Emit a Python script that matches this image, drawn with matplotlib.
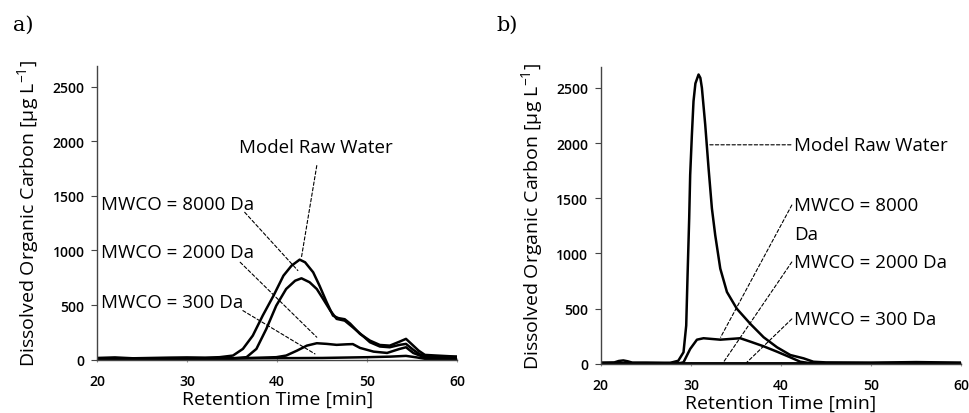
import matplotlib
matplotlib.use("Agg")
import matplotlib.pyplot as plt

plt.rcParams['mathtext.fontset'] = 'custom'
plt.rcParams['mathtext.rm'] = 'Open Sans'
plt.rcParams['mathtext.default'] = 'rm'

# ---- a) ----
a_raw_t = [20, 22, 24, 26, 28, 30, 32, 33.6, 35.1, 36.2, 37.3, 38.4, 39.6, 40.7, 41.6,
           42.5, 43.1, 44.0, 44.7, 45.5, 46.2, 46.8, 47.5, 48.1, 49.2, 50.3, 51.4,
           52.5, 53.6, 54.3, 54.9, 55.7, 56.4, 57.7, 60]
a_raw = [15, 20, 12, 15, 18, 20, 18, 22, 37, 98, 220, 403, 586, 769, 861,
         916, 892, 800, 678, 525, 403, 380, 370, 330, 235, 174, 134,
         128, 165, 190, 144, 82, 43, 37, 27]

a_8000_t = [20, 25, 30, 35, 36.6, 37.7, 38.8, 39.9, 41.0, 42.0, 42.7, 43.6, 44.4,
            45.1, 45.9, 46.6, 47.5, 48.4, 49.6, 50.3, 51.4, 52.5, 53.6, 54.3,
            55.1, 55.8, 56.5, 58, 60]
a_8000 = [12, 10, 12, 12, 22, 98, 281, 494, 647, 723, 745, 709, 647,
          556, 449, 373, 357, 296, 211, 159, 120, 113, 135, 144,
          90, 50, 30, 25, 25]

a_2000_t = [20, 25, 30, 35, 39.9, 41.0, 42.2, 43.3, 44.4, 45.5, 46.6, 47.7, 48.4,
            49.2, 50.7, 52.2, 53.6, 54.3, 55.1, 56.3, 58, 60]
a_2000 = [10, 8, 10, 10, 22, 37, 82, 128, 150, 144, 135, 140, 142,
          107, 73, 61, 98, 113, 61, 22, 12, 12]

a_300_t = [20, 30, 40, 45, 50, 52.5, 54.3, 55.5, 56.5, 60]
a_300 = [8, 8, 13, 15, 22, 27, 34, 20, 6, 5]

# ---- b) ----
b_raw_t = [20, 21.5, 22.0, 22.5, 23.0, 23.5, 25, 27, 27.7, 28.6, 29.18, 29.48, 29.63,
           29.81, 29.92, 30.11, 30.29, 30.5, 30.85, 31.05, 31.22, 31.59, 31.96, 32.33,
           32.7, 33.26, 34.0, 35.1, 36.6, 38.07, 39.56, 41.03, 42.5, 43.6, 45, 50, 55, 60]
b_raw = [10, 12, 25, 30, 22, 10, 10, 8, 8, 27, 104, 346, 801,
         1317, 1711, 2075, 2379, 2540, 2621, 2590, 2500, 2166, 1772, 1408,
         1165, 862, 650, 498, 361, 240, 149, 79, 49, 18, 12, 10, 15, 10]

b_8000_t = [20, 25, 28.8, 29.18, 29.92, 30.67, 31.4, 33.26, 35.48, 36.6, 38.07,
            39.56, 41.03, 42.14, 43, 45, 60]
b_8000 = [6, 6, 6, 13, 134, 218, 231, 218, 231, 200, 158,
          109, 58, 18, 8, 6, 6]

b_2000_t = [20, 30, 40, 50, 60]
b_2000 = [5, 5, 5, 5, 5]

b_300_t = [20, 30, 40, 50, 60]
b_300 = [3, 3, 3, 3, 3]

x_ticks = [20, 30, 40, 50, 60]
y_ticks = [0, 500, 1000, 1500, 2000, 2500]

fig = plt.figure(figsize=(9.69, 4.14), dpi=100)
axa = fig.add_axes([0.100, 0.129, 0.372, 0.709])
axb = fig.add_axes([0.620, 0.119, 0.372, 0.717])

font = ['Open Sans', 'DejaVu Sans']
lw = 1.8
for ax, series in [(axa, [(a_raw_t, a_raw), (a_8000_t, a_8000), (a_2000_t, a_2000), (a_300_t, a_300)]),
                   (axb, [(b_raw_t, b_raw), (b_8000_t, b_8000), (b_2000_t, b_2000), (b_300_t, b_300)])]:
    for t, v in series:
        ax.plot(t, v, color='black', lw=lw, solid_joinstyle='round', solid_capstyle='round')
    ax.set_xlim(20, 60)
    ax.set_ylim(0, 2690)
    ax.set_xticks(x_ticks)
    ax.set_yticks(y_ticks)
    for s in ['top', 'right']:
        ax.spines[s].set_visible(False)
    for s in ['left', 'bottom']:
        ax.spines[s].set_color('#444444')
        ax.spines[s].set_linewidth(1.0)
    ax.tick_params(axis='y', length=4, color='#444444', labelsize=10, pad=5)
    ax.tick_params(axis='x', length=3, direction='inout', color='#999999', labelsize=10, pad=9)
    for lab in ax.get_xticklabels() + ax.get_yticklabels():
        lab.set_family(font)
        lab.set_fontweight('semibold')
    ax.set_xlabel('Retention Time [min]', family=font, fontsize=14, labelpad=1)
    ax.set_ylabel('Dissolved Organic Carbon [µg L$^{-1}$]', family=font, fontsize=14, labelpad=8)

lead = dict(arrowstyle='-', linestyle=(0, (3, 2)), lw=0.8, color='black',
            shrinkA=0, shrinkB=0)
tfs = 13.5

# a) annotations
axa.text(44.3, 1946, 'Model Raw Water', family=font, fontsize=tfs, ha='center', va='center')
axa.annotate('', xy=(42.7, 938), xytext=(44.4, 1778), arrowprops=lead)
axa.text(20.4, 1427, 'MWCO = 8000 Da', family=font, fontsize=tfs, ha='left', va='center')
axa.annotate('', xy=(42.3, 816), xytext=(36.4, 1350), arrowprops=lead)
axa.text(20.4, 984, 'MWCO = 2000 Da', family=font, fontsize=tfs, ha='left', va='center')
axa.annotate('', xy=(44.4, 205), xytext=(35.9, 892), arrowprops=lead)
axa.text(20.4, 525, 'MWCO = 300 Da', family=font, fontsize=tfs, ha='left', va='center')
axa.annotate('', xy=(44.2, 52), xytext=(36.2, 449), arrowprops=lead)

# b) annotations
axb.text(41.4, 1984, 'Model Raw Water', family=font, fontsize=tfs, ha='left', va='center')
axb.annotate('', xy=(32.1, 1984), xytext=(41.1, 1984), arrowprops=lead)
axb.text(41.4, 1438, 'MWCO = 8000', family=font, fontsize=tfs, ha='left', va='center')
axb.text(41.4, 1180, 'Da', family=font, fontsize=tfs, ha='left', va='center')
axb.annotate('', xy=(33.3, 240), xytext=(41.2, 1438), arrowprops=lead)
axb.text(41.4, 922, 'MWCO = 2000 Da', family=font, fontsize=tfs, ha='left', va='center')
axb.annotate('', xy=(33.6, 12), xytext=(41.2, 922), arrowprops=lead)
axb.text(41.4, 406, 'MWCO = 300 Da', family=font, fontsize=tfs, ha='left', va='center')
axb.annotate('', xy=(36.2, 12), xytext=(41.2, 406), arrowprops=lead)

fig.text(0.013, 0.94, 'a)', family=['DejaVu Serif'], fontsize=15, va='center')
fig.text(0.512, 0.94, 'b)', family=['DejaVu Serif'], fontsize=15, va='center')

fig.savefig('out.png', dpi=100)
